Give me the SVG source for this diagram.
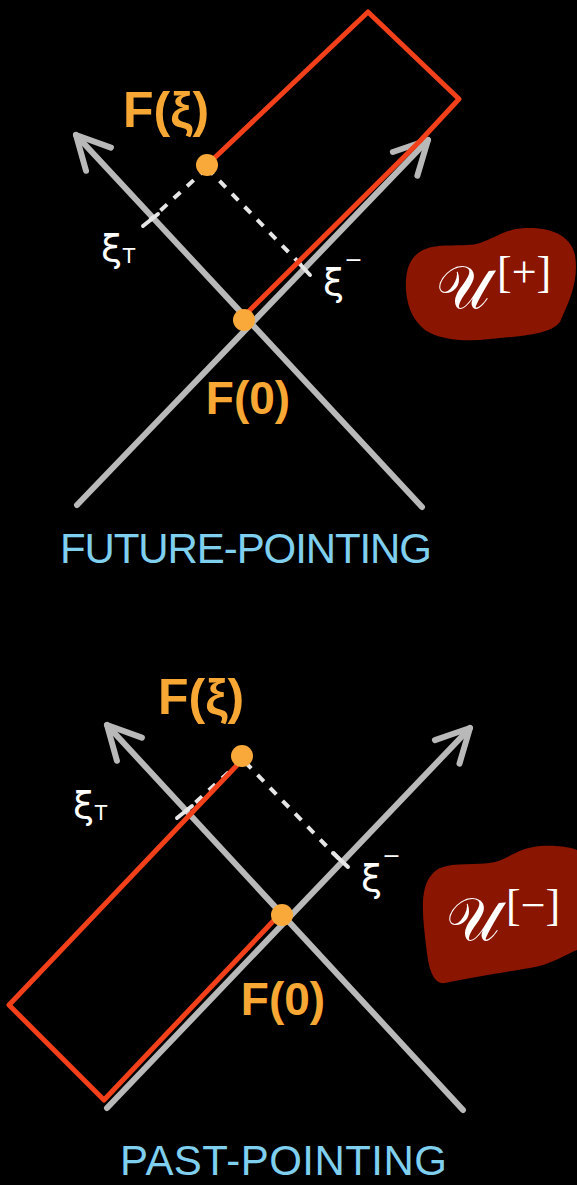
<svg xmlns="http://www.w3.org/2000/svg" width="577" height="1185" viewBox="0 0 577 1185">
<style>
.axis{stroke:#b9b9b9;stroke-width:6;fill:none;stroke-linecap:round;marker-end:url(#chev)}
.dash{stroke:#e6e6e6;stroke-width:4;stroke-dasharray:9 9;fill:none}
.tick{stroke:#e6e6e6;stroke-width:4;stroke-linecap:round}
.box{stroke:#f2401a;stroke-width:5;fill:none;stroke-linejoin:round;stroke-linecap:round}
.dot{fill:#f9a93a}
.lbl{font-family:"Liberation Sans",Arial,sans-serif;font-weight:bold;fill:#f7a834}
.xi{font-family:"DejaVu Sans",sans-serif;fill:#ffffff}
.cap{font-family:"Liberation Sans",Arial,sans-serif;fill:#7fcfee;font-size:42px}
.blob{fill:#8a1500}
.U{font-family:"DejaVu Serif","Liberation Serif",serif;fill:#ffffff}
.sup{font-family:"Liberation Serif",serif;fill:#ffffff}
</style>
<defs>
<marker id="chev" markerUnits="userSpaceOnUse" viewBox="-40 -25 50 50" markerWidth="50" markerHeight="50" refX="0" refY="0" orient="auto" overflow="visible">
<path d="M-33,-17 L0,0 L-33,17" fill="none" stroke="#b9b9b9" stroke-width="6" stroke-linecap="round" stroke-linejoin="round"/>
</marker>
</defs>
<rect width="577" height="1185" fill="#000000"/>

<g id="connectors">
<line class="axis" x1="422" y1="507" x2="76" y2="135"/>
<line class="axis" x1="77" y1="505" x2="428" y2="140"/>
<line class="axis" x1="463" y1="1110" x2="107" y2="725"/>
<line class="axis" x1="107" y1="1108" x2="470" y2="728"/>
<line class="dash" x1="207" y1="168" x2="150" y2="220"/>
<line class="dash" x1="207" y1="168" x2="303" y2="267"/>
<line class="dash" x1="242" y1="760" x2="185" y2="812"/>
<line class="dash" x1="245" y1="762" x2="340" y2="860"/>
<line class="tick" x1="143" y1="226" x2="158" y2="214"/>
<line class="tick" x1="297" y1="261" x2="310" y2="275"/>
<line class="tick" x1="177" y1="818" x2="192" y2="806"/>
<line class="tick" x1="333" y1="853" x2="348" y2="867"/>
</g>

<g id="region-future">
<path class="box" d="M244,316 L420,141 L459,99 L368,12 L207,165"/>
</g>
<g id="region-past">
<path class="box" d="M242,760 L9,1005 L104,1100 L278,916"/>
</g>

<g id="node-F0-top"><circle class="dot" cx="244" cy="320" r="11"/><text class="lbl" x="248" y="414" font-size="46" text-anchor="middle">F(0)</text></g>
<g id="node-Fxi-top"><circle class="dot" cx="207" cy="165" r="11"/><text class="lbl" x="166" y="127" font-size="50" text-anchor="middle">F(ξ)</text></g>
<g id="label-xiT-top"><text class="xi" x="101" y="261" font-size="38">ξ<tspan font-size="22" font-family="Liberation Sans" dy="2">T</tspan></text></g>
<g id="label-ximinus-top"><text class="xi" x="323" y="295" font-size="38">ξ<tspan font-size="22" dy="-28">−</tspan></text></g>
<g id="caption-top"><text class="cap" x="60" y="563" textLength="372" lengthAdjust="spacing">FUTURE-POINTING</text></g>
<g id="node-Uplus">
<path class="blob" d="M423,250 C440,242 465,248 480,243 C495,238 505,229 525,228 C545,227 570,232 575,255 C579,280 570,300 560,322 C550,335 520,336 490,339 C465,342 440,340 425,330 C410,318 405,300 406,280 C407,265 412,256 423,250 Z"/>
<text class="U" x="436" y="308" font-size="60">𝒰</text>
<text class="sup" x="497" y="287" font-size="44">[+]</text>
</g>

<g id="node-F0-bottom"><circle class="dot" cx="282" cy="915" r="11"/><text class="lbl" x="283" y="1015" font-size="46" text-anchor="middle">F(0)</text></g>
<g id="node-Fxi-bottom"><circle class="dot" cx="242" cy="756" r="11"/><text class="lbl" x="201" y="714" font-size="50" text-anchor="middle">F(ξ)</text></g>
<g id="label-xiT-bottom"><text class="xi" x="73" y="818" font-size="38">ξ<tspan font-size="22" font-family="Liberation Sans" dy="2">T</tspan></text></g>
<g id="label-ximinus-bottom"><text class="xi" x="361" y="891" font-size="38">ξ<tspan font-size="22" dy="-28">−</tspan></text></g>
<g id="caption-bottom"><text class="cap" x="120" y="1175" font-size="38" textLength="327" lengthAdjust="spacing">PAST-POINTING</text></g>
<g id="node-Uminus">
<path class="blob" d="M440,868 C455,862 475,866 495,862 C510,858 518,848 540,846 C560,845 572,848 577,850 L577,950 C565,955 550,965 530,968 C505,972 470,978 445,983 C432,985 428,965 426,945 C423,920 420,895 428,880 C432,873 436,870 440,868 Z"/>
<text class="U" x="446" y="940" font-size="60">𝒰</text>
<text class="sup" x="506" y="920" font-size="44">[−]</text>
</g>
</svg>
